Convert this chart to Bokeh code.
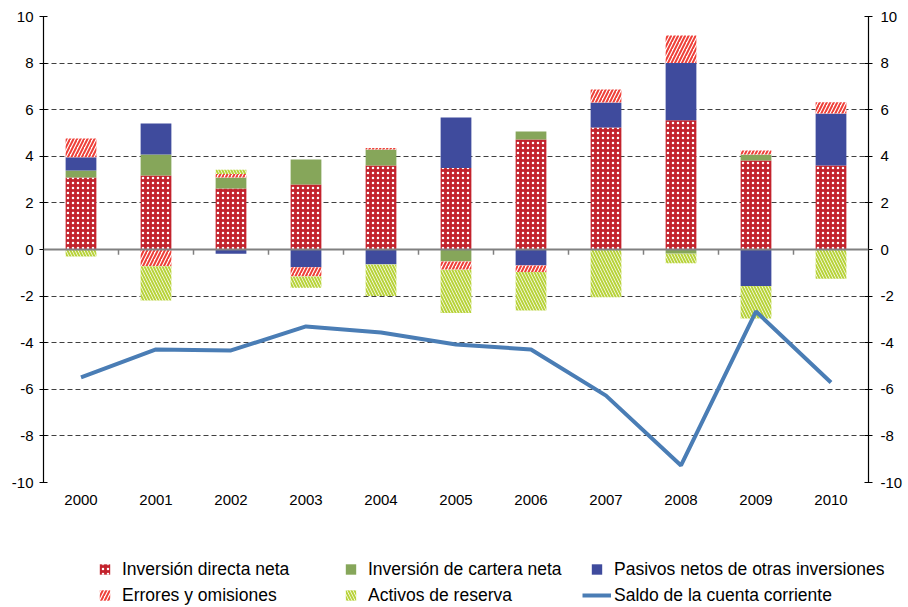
import math
from bokeh.plotting import figure
from bokeh.layouts import column
from bokeh.models import (ColumnDataSource, LinearAxis, FixedTicker, Legend, LegendItem, Span, Range1d)
from bokeh.embed import file_html
from bokeh.resources import INLINE

years = ["2000", "2001", "2002", "2003", "2004", "2005", "2006", "2007", "2008", "2009", "2010"]
directa = [3.09, 3.18, 2.62, 2.79, 3.60, 3.50, 4.72, 5.24, 5.55, 3.82, 3.60]
cartera = [0.30, 0.90, 0.47, 1.07, 0.69, -0.51, 0.34, 0.00, -0.18, 0.26, 0.00]
pasivos = [0.57, 1.33, -0.18, -0.76, -0.64, 2.17, -0.69, 1.07, 2.45, -1.57, 2.24]
errores = [0.80, -0.72, 0.15, -0.40, 0.07, -0.36, -0.28, 0.56, 1.18, 0.17, 0.48]
activos = [-0.30, -1.47, 0.18, -0.48, -1.36, -1.86, -1.65, -2.05, -0.41, -1.39, -1.26]
saldo = [-5.49, -4.29, -4.33, -3.30, -3.56, -4.08, -4.29, -6.27, -9.27, -2.66, -5.71]
y_ticks = list(range(-10, 11, 2))

labels = ["Inversión directa neta", "Inversión de cartera neta", "Pasivos netos de otras inversiones",
          "Errores y omisiones", "Activos de reserva", "Saldo de la cuenta corriente"]

FONT = "Liberation Sans"
LINE_COLOR = "#4A7DB5"

p = figure(x_range=years, y_range=(-10, 10), frame_width=825, frame_height=466,
           min_border_left=43, min_border_right=40, min_border_top=16, min_border_bottom=48,
           output_backend="svg", toolbar_location=None, background_fill_color="white",
           border_fill_color="white")
p.outline_line_color = None

# stacking
pos = [0.0] * len(years)
neg = [0.0] * len(years)

def stack(vals):
    bottoms, tops = [], []
    for i, v in enumerate(vals):
        if v >= 0:
            bottoms.append(pos[i]); tops.append(pos[i] + v); pos[i] += v
        else:
            bottoms.append(neg[i]); tops.append(neg[i] + v); neg[i] += v
    return bottoms, tops

styles = [
    dict(fill_color="#C3232D", hatch_pattern="dot", hatch_color="white", hatch_scale=5, hatch_weight=1.2),
    dict(fill_color="#86A65A"),
    dict(fill_color="#3F4B9D"),
    dict(fill_color="white", hatch_pattern="/", hatch_color="#EE3F38", hatch_scale=7, hatch_weight=2),
    dict(fill_color="white", hatch_pattern="\\", hatch_color="#B8D33A", hatch_scale=6, hatch_weight=2),
]

for vals, st in zip([directa, cartera, pasivos, errores, activos], styles):
    b, t = stack(vals)
    src = ColumnDataSource(dict(x=years, bottom=b, top=t))
    p.vbar(x="x", bottom="bottom", top="top", width=0.41, source=src, line_color=None, **st)

# zero line and category boundary ticks
p.add_layout(Span(location=0, dimension="width", line_color="#808080", line_width=2))
bx = [(y, 0.5) for y in years[:-1]]
p.segment(x0=bx, y0=[0] * len(bx), x1=bx, y1=[-0.22] * len(bx), line_color="#808080", line_width=1.5)

p.line(x=years, y=saldo, line_color=LINE_COLOR, line_width=4)

# axes
p.yaxis.ticker = FixedTicker(ticks=y_ticks)
ax_r = LinearAxis(ticker=FixedTicker(ticks=y_ticks))
p.add_layout(ax_r, "right")
for ax in [p.yaxis[0], ax_r]:
    ax.axis_line_color = "black"
    ax.axis_line_width = 1.2
    ax.major_tick_in = 4
    ax.major_tick_out = 4
    ax.major_tick_line_color = "black"
    ax.minor_tick_line_color = None
    ax.major_label_text_font = FONT
    ax.major_label_text_font_size = "15px"
    ax.major_label_text_color = "black"
    ax.major_label_overrides = {t: str(t) for t in y_ticks}
p.yaxis[0].major_label_standoff = 6
ax_r.major_label_standoff = 8

p.xaxis.axis_line_color = None
p.xaxis.major_tick_line_color = None
p.xaxis.major_label_text_font = FONT
p.xaxis.major_label_text_font_size = "15px"
p.xaxis.major_label_text_color = "black"
p.xaxis.major_label_standoff = 6

p.xgrid.grid_line_color = None
p.ygrid.ticker = FixedTicker(ticks=y_ticks)
p.ygrid.grid_line_color = "#404040"
p.ygrid.grid_line_dash = "5 3"
p.ygrid.grid_line_width = 1

# ---- legend strip (separate figure below the chart) ----
lg = figure(frame_width=908, frame_height=77, x_range=Range1d(0, 1), y_range=Range1d(0, 1),
            x_axis_type=None, y_axis_type=None, min_border=0,
            output_backend="svg", toolbar_location=None, outline_line_color=None,
            background_fill_color="white", border_fill_color="white")
lg.grid.visible = False
proxies = []
for st in styles:
    proxies.append(lg.scatter(x=[math.nan], y=[math.nan], marker="square", size=10, line_color=None, **st))
proxies.append(lg.line(x=[math.nan], y=[math.nan], line_color=LINE_COLOR, line_width=4))

leg = Legend(items=[LegendItem(label=labels[i], renderers=[proxies[i]]) for i in range(6)],
             orientation="horizontal", ncols=3, location=(90, -1),
             glyph_width=29, glyph_height=26, label_standoff=3, label_width=214,
             padding=0, margin=0, spacing=0, border_line_color=None,
             background_fill_alpha=0, label_text_font=FONT, label_text_font_size="17.5px",
             label_text_color="black", label_height=26)
lg.add_layout(leg, "center")

layout = column(p, lg, spacing=0)
open("out.html", "w").write(file_html(layout, INLINE))
